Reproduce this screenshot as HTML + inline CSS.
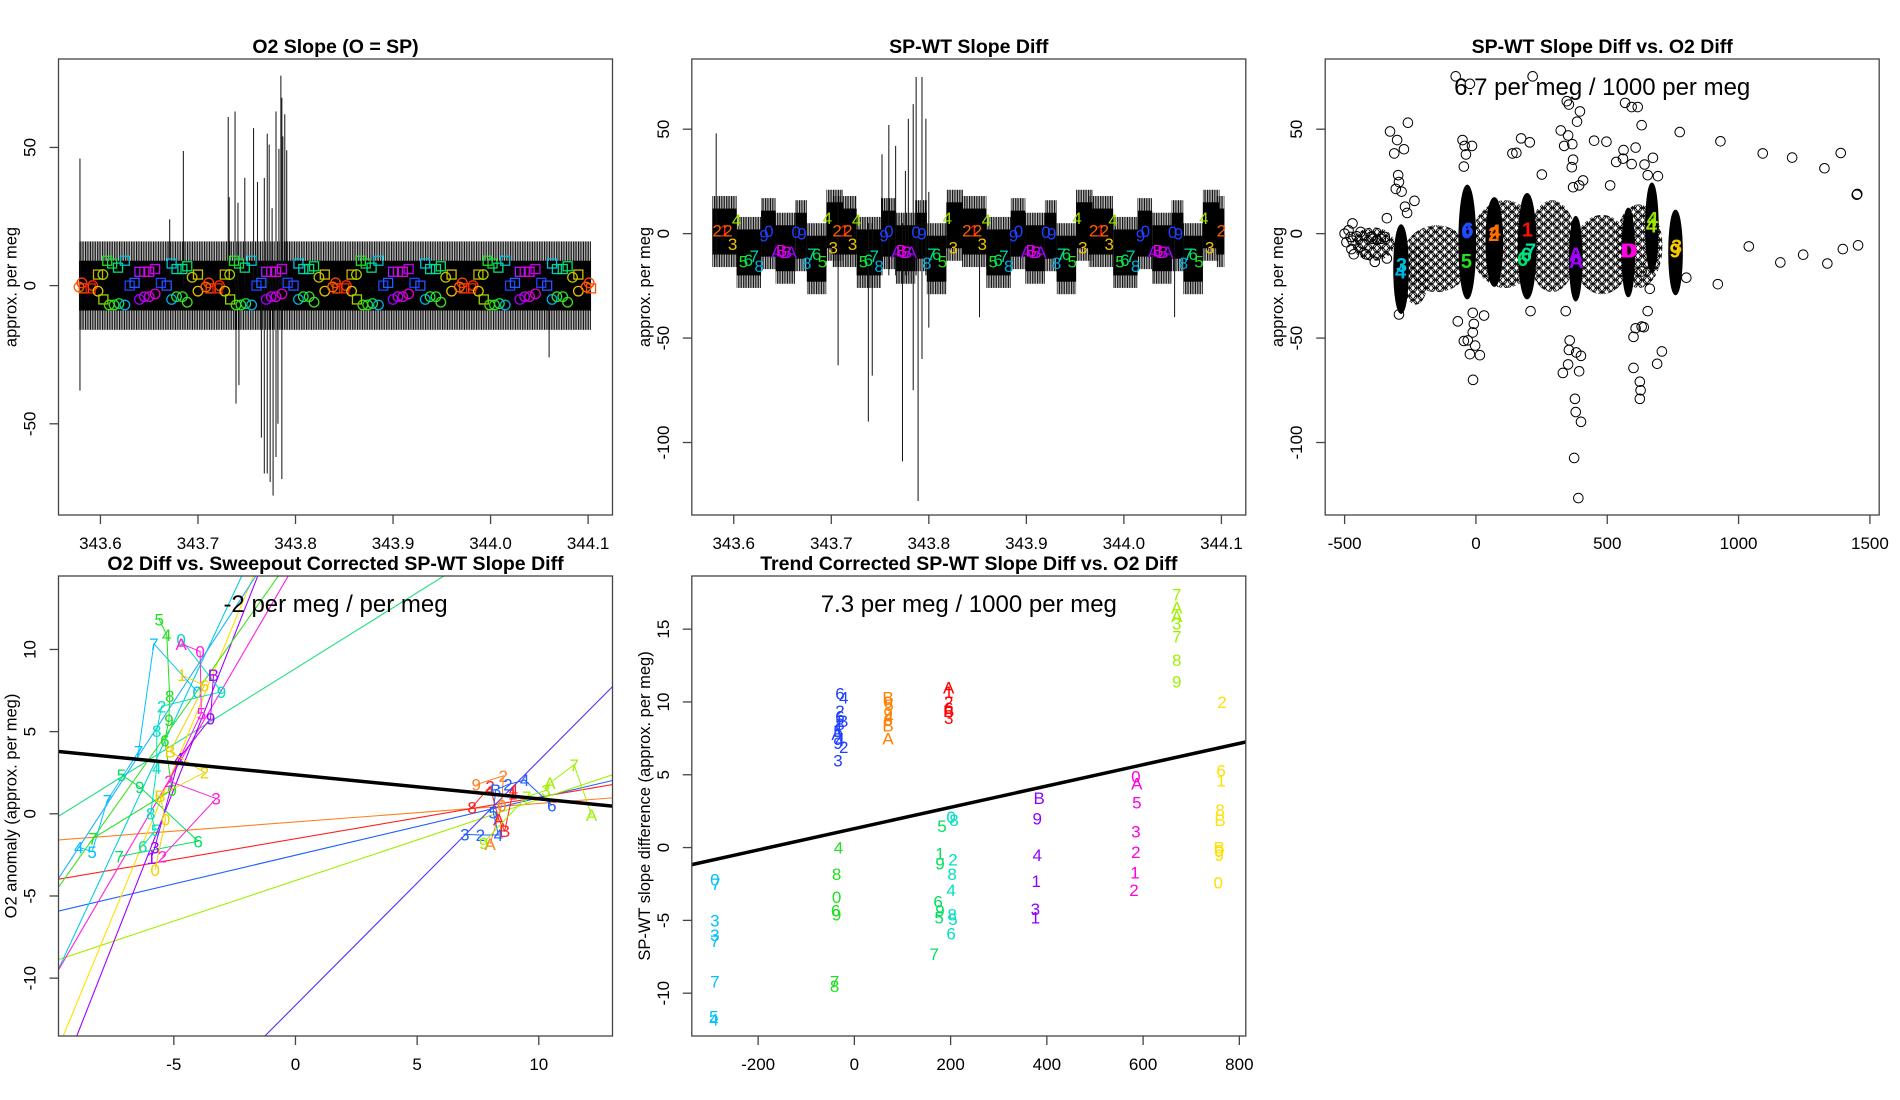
<!DOCTYPE html>
<html><head><meta charset="utf-8"><title>Slope diff charts</title>
<style>
html,body{margin:0;padding:0;background:#fff;width:1900px;height:1100px;overflow:hidden;position:relative;}
svg{display:block;position:absolute;left:0;top:0;font-family:"Liberation Sans",Arial,sans-serif;}
</style></head>
<body>
<svg id="root" width="1900" height="1100" viewBox="0 0 1900 1100" xmlns="http://www.w3.org/2000/svg">
<defs>
<pattern id="fringe" width="1.7" height="6" patternUnits="userSpaceOnUse"><rect x="0" y="0" width="1" height="6" fill="#000"/></pattern>
<pattern id="circs" width="9" height="8" patternUnits="userSpaceOnUse"><circle cx="4.5" cy="4" r="4" fill="none" stroke="#000" stroke-width="1"/><circle cx="0" cy="0" r="4" fill="none" stroke="#000" stroke-width="1"/><circle cx="9" cy="0" r="4" fill="none" stroke="#000" stroke-width="1"/><circle cx="0" cy="8" r="4" fill="none" stroke="#000" stroke-width="1"/><circle cx="9" cy="8" r="4" fill="none" stroke="#000" stroke-width="1"/></pattern>
</defs>
</svg>
<script>
// ---------------- DATA ----------------
// Panel 1: O2 slope
const p1XTicks = [343.6, 343.7, 343.8, 343.9, 344.0, 344.1];
const p1XTickLabels = ["343.6", "343.7", "343.8", "343.9", "344.0", "344.1"];
const p1YTicks = [50, 0, -50];
const p1YTickLabels = ["50", "0", "-50"];
const p1Start = 343.578, p1End = 344.103;
const p1CoreHi = 9, p1CoreLo = -9, p1FringeHi = 16, p1FringeLo = -16;
const p1SpikeX = [343.579, 343.671, 343.685, 343.731, 343.732, 343.738, 343.741, 343.748, 343.757, 343.761, 343.768, 343.771, 343.773, 343.776, 343.780, 343.783, 343.785, 343.786, 343.787, 343.789, 343.791];
const p1SpikeTop = [46, 24, 48.7, 61, 32, 63, 30, 39, 57, 37.5, 39, 55, 51, 28, 63, 49.5, 76, 68, 54, 62, 49];
const p1DownX = [343.579, 343.739, 343.742, 343.765, 343.768, 343.771, 343.774, 343.777, 343.780, 343.782, 343.786, 344.060];
const p1DownBot = [-38, -42.7, -36, -55, -68, -68, -71, -76, -62, -50, -70, -26];
const p1CycleStart = [343.578, 343.708, 343.838, 343.968, 344.098];
const p1MDx = [0, 0.003, 0.005, 0.012, 0.014, 0.0195, 0.0245, 0.0195, 0.025, 0.031, 0.036, 0.041, 0.029, 0.034, 0.040, 0.047, 0.047, 0.052, 0.057, 0.062, 0.067, 0.072, 0.078, 0.062, 0.067, 0.072, 0.078, 0.084, 0.090, 0.095, 0.095, 0.100, 0.106, 0.100, 0.106, 0.111, 0.111, 0.116, 0.122, 0.122];
const p1MY = [-0.5, 1, -1, -1, 0, 4, 4, -2, -5, -7, -7, -6.5, 9, 8, 6.5, 9, -7, 0, 1, -5, -4, -4, -3, 5, 5, 5, 6, 1, 0, -5, 8, 6, 6, -4, -4, -6, 7, 3, 4, -2];
const p1MShape = ["c","c","s","s","c","s","c","c","s","c","c","c","s","s","s","s","c","s","s","c","c","c","c","s","s","s","s","s","s","c","s","s","s","c","c","c","s","c","s","c"];
const p1MColor = ["#ff6000","#ff4000","#ff5000","#ff2000","#ff3000","#c8b000","#a0d000","#e0c000","#a0d000","#40e000","#20e020","#20e040","#20e020","#20d040","#00e080","#00c0d0","#00b0e0","#2040ff","#2060ff","#a000ff","#c000f0","#d000e0","#e000d0","#a020ff","#d000e0","#e000e0","#c000f0","#2040ff","#3050ff","#00b0e0","#00c0e0","#00d0b0","#00e090","#20e040","#30e030","#40e020","#00e060","#c0c000","#d0c000","#e0c000"];

// Panel 2: SP-WT slope diff
const p2XTicks = [343.6, 343.7, 343.8, 343.9, 344.0, 344.1];
const p2XTickLabels = ["343.6", "343.7", "343.8", "343.9", "344.0", "344.1"];
const p2YTicks = [50, 0, -50, -100];
const p2YTickLabels = ["50", "0", "-50", "-100"];
const p2CycleStart = [343.583, 343.706, 343.839, 343.969, 344.100];
const p2LevelDx = [-0.005, 0.020, 0.045, 0.060, 0.080, 0.092, 0.112];
const p2LevelEndDx = [0.020, 0.045, 0.060, 0.080, 0.092, 0.112, 0.129];
const p2LevelCenter = [1, -9, 0, -7, -1, -12, 4];
const p2CoreHalf = 11, p2FringeHalf = 17, p2End = 344.103;
const p2SpikeX = [343.582, 343.707, 343.738, 343.742, 343.752, 343.759, 343.766, 343.773, 343.776, 343.779, 343.784, 343.787, 343.789, 343.793, 343.797, 343.800, 343.852, 344.052];
const p2SpikeTop = [48, 15, 5, 5, 38, 52, 42, 5, 30, 55, 62, 75, 5, 75, 55, 20, 5, 5];
const p2SpikeBot = [-12, -63, -90, -68, -20, -20, -20, -109, -20, -20, -75, -20, -128, -60, -20, -45, -40, -40];
const p2LDx = [0, 0.0074, 0.011, 0.0158, 0.020, 0.027, 0.032, 0.038, 0.043, 0.048, 0.053, 0.061, 0.066, 0.071, 0.076, 0.081, 0.087, 0.092, 0.097, 0.102, 0.108, 0.113, 0.119];
const p2LY = [1.6, 1.6, 1.6, -5, 6.6, -13.4, -12.6, -10.7, -15.5, -0.8, 1.3, -8.7, -7.9, -8.7, -8.7, 0.8, 0, -13.9, -9.8, -9.8, -13.4, 7.6, -6.6];
const p2LText = ["2","1","2","3","4","5","6","7","8","9","0","A","B","B","A","0","9","8","7","6","5","4","3"];
const p2LColor = ["#ff6000","#ff2000","#ff6000","#f0c000","#a0e000","#20e020","#00e060","#00d0b0","#00b0e0","#2040ff","#2040ff","#a000ff","#e000e0","#e000e0","#a000ff","#2040ff","#2040ff","#00b0e0","#00d0b0","#00e060","#20e020","#a0e000","#f0c000"];

// Panel 3: scatter
const p3XTicks = [-500, 0, 500, 1000, 1500];
const p3XTickLabels = ["-500", "0", "500", "1000", "1500"];
const p3YTicks = [50, 0, -50, -100];
const p3YTickLabels = ["50", "0", "-50", "-100"];
const p3PtX = [-500,-485,-477,-470,-493,-474,-465,-454,-439,-431,-419,-400,-393,-377,-362,-347,-339,-385,-470,-327,-300,-274,-259,-311,-296,-293,-305,-283,-270,-262,-234,-339,-77,-23,-51,-43,-15,-38,-46,172,205,139,154,216,251,323,346,354,396,385,351,336,367,370,365,408,450,497,534,560,562,568,593,616,631,608,593,642,674,654,693,776,931,1092,1204,1327,1389,1450,1452,511,393,370,-293,-69,-46,-31,-23,-12,-8,15,-11,-3,-12,31,208,342,357,354,382,400,351,331,393,377,380,400,374,390,600,608,631,639,600,624,627,624,654,662,708,690,631,801,921,1039,1159,1246,1338,1397,1455];
const p3PtY = [0,1.6,-1.6,-3.3,-4.1,-7.4,-9.9,-1.3,0.8,-4.9,-9.9,-1.6,-2.5,-3,-2.5,-1.6,-11.9,-13.5,4.9,48.9,44.8,40.4,53.1,38.4,28,24.7,21.4,20.1,12.9,9.9,15.7,7.4,75.3,71.7,44.8,42,42,37.9,32.1,45.6,43.7,38.4,38.7,75.3,28.3,49.4,63.4,61.8,58.5,53.6,47,42,42.8,35.4,31.8,25.5,44.5,44,34.3,35.9,40,62.6,60.6,60.6,51.9,41.2,33.3,33.1,36.3,28,27.5,48.6,44.2,38.4,36.4,31.3,38.6,18.6,19.0,23.1,23.1,22.2,-38.7,-42,-51.4,-51.1,-57.7,-47.3,-43.2,-58.2,-70,-53.6,-37.9,-39.2,-37.1,-37.1,-51.1,-55.7,-56.9,-58.5,-62.6,-66.7,-65.9,-79.1,-85.4,-90.1,-107.4,-126.6,-49.4,-45.3,-44.5,-44.8,-64.3,-70.9,-75,-79.1,-37.1,-26.4,-56.4,-62.3,-18.1,-21.1,-24.2,-6.1,-13.8,-10.1,-14.3,-7.4,-5.6];
const p3HaloX = [-150, 110, 290, 480, 620, -390, -230];
const p3HaloY = [-12, -5, -6, -10, -6, -5, -20];
const p3HaloRX = [130, 130, 95, 110, 90, 80, 50];
const p3HaloRY = [16, 21, 22, 19, 20, 8, 14];
const p3ClX = [-285, -33, 70, 195, 380, 580, 670, 760];
const p3ClY = [-17, -4, -4, -6, -12, -9, 3, -9];
const p3ClRX = [26, 30, 30, 32, 22, 22, 22, 24];
const p3ClRY = [21, 27, 21, 25, 20, 21, 21, 20];
const p3LabX = [-287, -283, -35, -30, -36, 68, 73, 196, 178, 192, 208, 380, 382, 578, 588, 672, 668, 758, 764];
const p3LabY = [-18, -15, 1, 2, -13, 0, 1, 2, -12, -10, -8, -10, -13, -8, -8, 7, 4, -8, -6];
const p3LabText = ["4","3","0","6","5","2","4","1","6","6","7","A","A","D","D","4","4","9","3"];
const p3LabColor = ["#00b0e0","#00c0e0","#2040ff","#2050ff","#20e020","#ff7000","#ff7000","#ff1000","#00e060","#00e080","#00e0a0","#a000ff","#a000ff","#ff00e0","#ff00e0","#90e000","#a0e000","#ffd000","#f0c000"];

// Panel 4
const p4XTicks = [-5, 0, 5, 10];
const p4XTickLabels = ["-5", "0", "5", "10"];
const p4YTicks = [10, 5, 0, -5, -10];
const p4YTickLabels = ["10", "5", "0", "-5", "-10"];
const p4LineSlope = [0.1124, 0.253, 0.349, 0.4936, 1.488, 0.923, 3.175, 3.579, 2.539, 3.762, 2.096, 2.27];
const p4LineIntercept = [-0.495, -1.516, -2.52, -4.06, -11.65, 8.84, 21.48, 20.65, 15.23, 20.3, 15.95, 18.17];
const p4LineColor = ["#ff8020","#ff2020","#2060ff","#a0f000","#5030ff","#20e080","#00d0e0","#ffe000","#ff20e0","#a000ff","#40e020","#20b0ff"];
const p4FitSlope = -0.1458, p4FitIntercept = 2.37;
const p4GroupColor = ["#00c0ff","#20e020","#00e060","#00e0c0","#ff20e0","#a000ff","#f0d000","#ff8020","#ff2020","#2060ff","#a0f000"];
const p4GroupX = [[-8.91,-8.36,-7.73,-6.45,-5.82,-4.04],[-8.33,-5.07,-5.37,-5.2,-5.17,-5.29,-5.6],[-7.25,-4.0,-6.4,-7.15],[-6.28,-5.75,-5.95,-5.7,-5.7,-5.5,-3.04,-4.7],[-5.47,-3.26,-5.2,-3.87,-3.92,-4.7],[-5.92,-5.78,-4.79,-3.49,-3.37],[-5.77,-5.34,-5.57,-3.74,-5.15,-3.74,-4.67],[8.0,8.48,8.54,7.43],[7.26,8.0,8.35,8.6,8.93,8.96],[6.96,7.6,8.34,8.13,8.23,8.73,9.42,10.54],[7.73,9.5,10.29,10.46,11.45,12.17]];
const p4GroupY = [[-2.03,-2.31,0.83,3.79,10.35,7.43],[-1.5,1.46,4.46,5.73,7.17,10.88,11.83],[-2.6,-1.67,1.63,2.37],[-1.97,-0.97,0.02,2.79,5.06,6.54,7.43,10.6],[-2.6,0.93,1.99,6.12,9.88,10.35],[-2.67,-2.03,3.36,5.8,8.44],[-3.41,-0.34,1.1,2.52,3.79,7.81,8.44],[-1.82,0.51,2.31,1.78],[0.4,1.67,-0.34,-1.04,1.25,1.46],[-1.25,-1.29,-1.29,0.08,1.46,1.78,2.05,0.51],[-1.76,1.04,1.42,1.88,2.98,-0.08]];
const p4GroupText = [["4","5","7","7","7","0"],["7","0","6","9","8","4","5"],["7","6","9","5"],["6","5","8","4","8","2","9","0"],["2","3","2","5","0","A"],["1","3","4","9","B"],["0","0","B","2","B","6","1"],["A","0","2","9"],["8","2","A","B","1","4"],["3","2","4","5","B","2","4","6"],["9","7","3","A","7","A"]];

// Panel 5
const p5XTicks = [-200, 0, 200, 400, 600, 800];
const p5XTickLabels = ["-200", "0", "200", "400", "600", "800"];
const p5YTicks = [15, 10, 5, 0, -5, -10];
const p5YTickLabels = ["15", "10", "5", "0", "-5", "-10"];
const p5FitSlope = 0.00732, p5FitIntercept = 1.30;
const p5GroupX = [-30, 70, 196, -290, -37, 178, 207, 380, 585, 670, 760];
const p5GroupColor = ["#2040ff","#ff8000","#ff0000","#00c0ff","#20e020","#00e060","#00e0c0","#9000ff","#ff00e0","#a0f000","#ffe000"];
const p5GroupY = [[10.6,10.3,9.4,9.0,8.7,8.5,8.2,8.0,7.8,7.4,7.2,6.9,6.0],[10.3,10.0,9.8,9.2,9.0,8.8,8.4,7.5],[11.0,10.7,10.0,9.6,9.4,8.9],[-2.2,-2.5,-5.0,-6.0,-6.4,-9.2,-11.6,-11.8],[0.0,-1.8,-3.4,-4.3,-4.6,-9.2,-9.5],[1.5,-0.4,-1.1,-3.7,-4.3,-4.8,-7.3],[2.1,1.9,-0.8,-1.8,-2.9,-4.6,-4.9,-5.9],[3.4,2.0,-0.5,-2.3,-4.2,-4.8],[4.9,4.4,3.1,1.1,-0.3,-1.7,-2.9],[17.4,16.5,15.9,15.4,14.5,12.9,11.4],[10.0,5.3,4.6,2.6,1.9,0.0,-0.2,-0.5,-2.4]];
const p5GroupText = [["6","4","2","6","B","8","1","5","A","4","9","2","3"],["B","0","5","9","4","6","B","A"],["A","1","2","6","B","3"],["0","7","3","3","7","7","5","4"],["4","8","0","6","9","7","8"],["5","1","9","6","9","5","7"],["0","8","2","8","4","8","5","6"],["B","9","4","1","3","1"],["0","A","5","3","2","1","2"],["7","A","A","3","7","8","9"],["2","6","1","8","B","B","0","9","0"]];
const p5GroupJitter = [[0,8,0,0,6,0,-2,-4,-6,0,-4,8,-4],[0,0,2,0,2,0,0,0],[0,0,0,0,0,0],[0,2,0,0,0,0,-2,-2],[4,0,0,-2,0,-4,-4],[4,0,0,-4,0,-2,-12],[-6,0,-2,-4,-6,-4,-2,-6],[4,0,0,-2,-4,-4],[0,2,2,0,0,-2,-4],[0,0,0,0,0,0,0],[4,2,2,0,0,-2,-2,-2,-4]];

// ---------------- RENDERING ----------------
const NS = "http://www.w3.org/2000/svg";
const root = document.getElementById("root");
function mk(tag, attrs, parent) {
  const e = document.createElementNS(NS, tag);
  for (const k in attrs) e.setAttribute(k, attrs[k]);
  (parent || root).appendChild(e);
  return e;
}
function panel(x0, y0, w, h, xmin, xmax, ymin, ymax) {
  return { x0, y0, w, h, sx: v => x0 + (v - xmin) / (xmax - xmin) * w, sy: v => y0 + (ymax - v) / (ymax - ymin) * h };
}
const P = [
  panel(58.5, 59, 554, 456, 343.557, 344.125, -83, 82),
  panel(691.8, 59, 554, 456, 343.557, 344.125, -134.7, 83.6),
  panel(1325.2, 59, 554, 456, -573.9, 1535.4, -134.7, 83.6),
  panel(58.5, 576, 554, 460, -9.74, 13.03, -13.52, 14.47),
  panel(691.8, 576, 554, 460, -337.8, 813.4, -12.94, 18.65)
];
P.forEach((p, i) => {
  const cp = mk("clipPath", { id: "clip" + i }, root.querySelector("defs"));
  mk("rect", { x: p.x0, y: p.y0, width: p.w, height: p.h }, cp);
});

function frame(p, idx, title, xt, xtl, yt, ytl, ylab) {
  const g = mk("g", {});
  
  
  const box = mk("rect", { x: p.x0, y: p.y0, width: p.w, height: p.h, fill: "none", stroke: "#444", "stroke-width": 1.3 }, g);
  
  
  const tt = mk("text", { x: p.x0 + p.w / 2, y: p.y0 - 6, "text-anchor": "middle", "font-size": 19.5, "font-weight": "bold" }, g);
  tt.textContent = title;
  
  
  const by = p.y0 + p.h;
  xt.forEach((v, k) => {
    const x = p.sx(v);
    const t = mk("line", { x1: x, x2: x, y1: by, y2: by + 9, stroke: "#444", "stroke-width": 1.3 }, g);
    
    
    const l = mk("text", { x: x, y: by + 34, "text-anchor": "middle", "font-size": 17 }, g);
    l.textContent = xtl[k];
    
    
  });
  yt.forEach((v, k) => {
    const y = p.sy(v);
    const t = mk("line", { x1: p.x0 - 9, x2: p.x0, y1: y, y2: y, stroke: "#444", "stroke-width": 1.3 }, g);
    
    
    const l = mk("text", { x: 0, y: 0, "text-anchor": "middle", "font-size": 17, transform: "translate(" + (p.x0 - 23) + "," + y + ") rotate(-90)" }, g);
    l.textContent = ytl[k];
    
    
  });
  const yl = mk("text", { x: 0, y: 0, "text-anchor": "middle", "font-size": 16.5, transform: "translate(" + (p.x0 - 42) + "," + (p.y0 + p.h / 2) + ") rotate(-90)" }, g);
  yl.textContent = ylab;
  
  
}
function clipG(i, name) {
  const g = mk("g", { "clip-path": "url(#clip" + i + ")" });
  
  
  return g;
}
function label(g, x, y, txt, col, size, name, weight) {
  const t = mk("text", { x: x, y: y + size * 0.36, "text-anchor": "middle", "font-size": size, fill: col, "font-weight": weight || "normal" }, g);
  t.textContent = txt;
  
  
  return t;
}

// ---- Panel 1 ----
(function () {
  const p = P[0], g = clipG(0, 'o2-slope-series');
  const fr = mk("rect", { x: p.sx(p1Start), y: p.sy(p1FringeHi), width: p.sx(p1End) - p.sx(p1Start), height: p.sy(p1FringeLo) - p.sy(p1FringeHi), fill: "url(#fringe)" }, g);
  
  
  const core = mk("rect", { x: p.sx(p1Start), y: p.sy(p1CoreHi), width: p.sx(p1End) - p.sx(p1Start), height: p.sy(p1CoreLo) - p.sy(p1CoreHi), fill: "#000" }, g);
  
  
  p1SpikeX.forEach((v, k) => {
    const s = mk("line", { x1: p.sx(v), x2: p.sx(v), y1: p.sy(p1SpikeTop[k]), y2: p.sy(0), stroke: "#111", "stroke-width": 1 }, g);
    
    
  });
  p1DownX.forEach((v, k) => {
    const s = mk("line", { x1: p.sx(v), x2: p.sx(v), y1: p.sy(0), y2: p.sy(p1DownBot[k]), stroke: "#111", "stroke-width": 1 }, g);
    
    
  });
  p1CycleStart.forEach(c0 => {
    p1MDx.forEach((dx, k) => {
      const xv = c0 + dx;
      if (xv > 344.106) return;
      const x = p.sx(xv), y = p.sy(p1MY[k]);
      let m;
      if (p1MShape[k] === "s") m = mk("rect", { x: x - 4.5, y: y - 4.5, width: 9, height: 9, fill: "none", stroke: p1MColor[k], "stroke-width": 1.3 }, g);
      else m = mk("circle", { cx: x, cy: y, r: 4.8, fill: "none", stroke: p1MColor[k], "stroke-width": 1.3 }, g);
      
      
    });
  });
  frame(p, 0, "O2 Slope (O = SP)", p1XTicks, p1XTickLabels, p1YTicks, p1YTickLabels, "approx. per meg");
})();

// ---- Panel 2 ----
(function () {
  const p = P[1], g = clipG(1, 'sp-wt-diff-series');
  p2CycleStart.forEach(c0 => {
    p2LevelDx.forEach((d0, k) => {
      const a = c0 + d0, b = Math.min(c0 + p2LevelEndDx[k], p2End);
      if (a >= p2End) return;
      const c = p2LevelCenter[k];
      const f = mk("rect", { x: p.sx(a), y: p.sy(c + p2FringeHalf), width: p.sx(b) - p.sx(a), height: p.sy(c - p2FringeHalf) - p.sy(c + p2FringeHalf), fill: "url(#fringe)" }, g);
      
      
      const r = mk("rect", { x: p.sx(a), y: p.sy(c + p2CoreHalf), width: p.sx(b) - p.sx(a), height: p.sy(c - p2CoreHalf) - p.sy(c + p2CoreHalf), fill: "#000" }, g);
      
      
    });
  });
  p2SpikeX.forEach((v, k) => {
    const s = mk("line", { x1: p.sx(v), x2: p.sx(v), y1: p.sy(p2SpikeTop[k]), y2: p.sy(p2SpikeBot[k]), stroke: "#111", "stroke-width": 1 }, g);
    
    
  });
  p2CycleStart.forEach(c0 => {
    p2LDx.forEach((dx, k) => {
      const xv = c0 + dx;
      if (xv > 344.107) return;
      label(g, p.sx(xv), p.sy(p2LY[k]), p2LText[k], p2LColor[k], 17, 'point-label');
    });
  });
  frame(p, 1, "SP-WT Slope Diff", p2XTicks, p2XTickLabels, p2YTicks, p2YTickLabels, "approx. per meg");
})();

// ---- Panel 3 ----
(function () {
  const p = P[2], g = clipG(2, 'scatter-points');
  const kx = p.sx(1) - p.sx(0), ky = p.sy(0) - p.sy(1);
  p3HaloX.forEach((v, k) => {
    const e = mk("ellipse", { cx: p.sx(v), cy: p.sy(p3HaloY[k]), rx: p3HaloRX[k] * kx, ry: p3HaloRY[k] * ky, fill: "url(#circs)" }, g);
    
    
  });
  p3ClX.forEach((v, k) => {
    const e = mk("ellipse", { cx: p.sx(v), cy: p.sy(p3ClY[k]), rx: p3ClRX[k] * kx, ry: p3ClRY[k] * ky, fill: "#000", stroke: "#000", "stroke-width": 2 }, g);
    
    
  });
  p3PtX.forEach((v, k) => {
    const c = mk("circle", { cx: p.sx(v), cy: p.sy(p3PtY[k]), r: 4.8, fill: "none", stroke: "#000", "stroke-width": 1 }, g);
    
    
  });
  p3LabX.forEach((v, k) => {
    label(g, p.sx(v), p.sy(p3LabY[k]), p3LabText[k], p3LabColor[k], 20, 'cluster-label', 'bold');
  });
  const t = mk("text", { x: p.x0 + p.w / 2, y: 95, "text-anchor": "middle", "font-size": 24 }, root);
  t.textContent = "6.7 per meg / 1000 per meg";
  
  
  frame(p, 2, "SP-WT Slope Diff vs. O2 Diff", p3XTicks, p3XTickLabels, p3YTicks, p3YTickLabels, "approx. per meg");
})();

// ---- Panel 4 ----
(function () {
  const p = P[3], g = clipG(3, 'o2-diff-lines');
  const xa = -9.74, xb = 13.03;
  p4LineSlope.forEach((m, k) => {
    const b = p4LineIntercept[k];
    const l = mk("line", { x1: p.sx(xa), y1: p.sy(b + m * xa), x2: p.sx(xb), y2: p.sy(b + m * xb), stroke: p4LineColor[k], "stroke-width": 1.1 }, g);
    
    
  });
  p4GroupX.forEach((xs, gi) => {
    const pts = xs.map((x, j) => p.sx(x) + "," + p.sy(p4GroupY[gi][j])).join(" ");
    const pl = mk("polyline", { points: pts, fill: "none", stroke: p4GroupColor[gi], "stroke-width": 1 }, g);
    
    
    xs.forEach((x, j) => {
      label(g, p.sx(x), p.sy(p4GroupY[gi][j]), p4GroupText[gi][j], p4GroupColor[gi], 17, 'point-label');
    });
  });
  const fit = mk("line", { x1: p.sx(xa), y1: p.sy(p4FitIntercept + p4FitSlope * xa), x2: p.sx(xb), y2: p.sy(p4FitIntercept + p4FitSlope * xb), stroke: "#000", "stroke-width": 3.5 }, g);
  
  
  const t = mk("text", { x: p.x0 + p.w / 2, y: 612, "text-anchor": "middle", "font-size": 24 }, root);
  t.textContent = "-2 per meg / per meg";
  
  
  frame(p, 3, "O2 Diff vs. Sweepout Corrected SP-WT Slope Diff", p4XTicks, p4XTickLabels, p4YTicks, p4YTickLabels, "O2 anomaly (approx. per meg)");
})();

// ---- Panel 5 ----
(function () {
  const p = P[4], g = clipG(4, 'trend-corrected-points');
  p5GroupX.forEach((x, gi) => {
    p5GroupY[gi].forEach((y, j) => {
      label(g, p.sx(x + p5GroupJitter[gi][j]), p.sy(y), p5GroupText[gi][j], p5GroupColor[gi], 17, 'point-label');
    });
  });
  const xa = -337.8, xb = 813.4;
  const fit = mk("line", { x1: p.sx(xa), y1: p.sy(p5FitIntercept + p5FitSlope * xa), x2: p.sx(xb), y2: p.sy(p5FitIntercept + p5FitSlope * xb), stroke: "#000", "stroke-width": 3.5 }, g);
  
  
  const t = mk("text", { x: p.x0 + p.w / 2, y: 612, "text-anchor": "middle", "font-size": 24 }, root);
  t.textContent = "7.3 per meg / 1000 per meg";
  
  
  frame(p, 4, "Trend Corrected SP-WT Slope Diff vs. O2 Diff", p5XTicks, p5XTickLabels, p5YTicks, p5YTickLabels, "SP-WT slope difference (approx. per meg)");
})();
</script>
</body></html>
